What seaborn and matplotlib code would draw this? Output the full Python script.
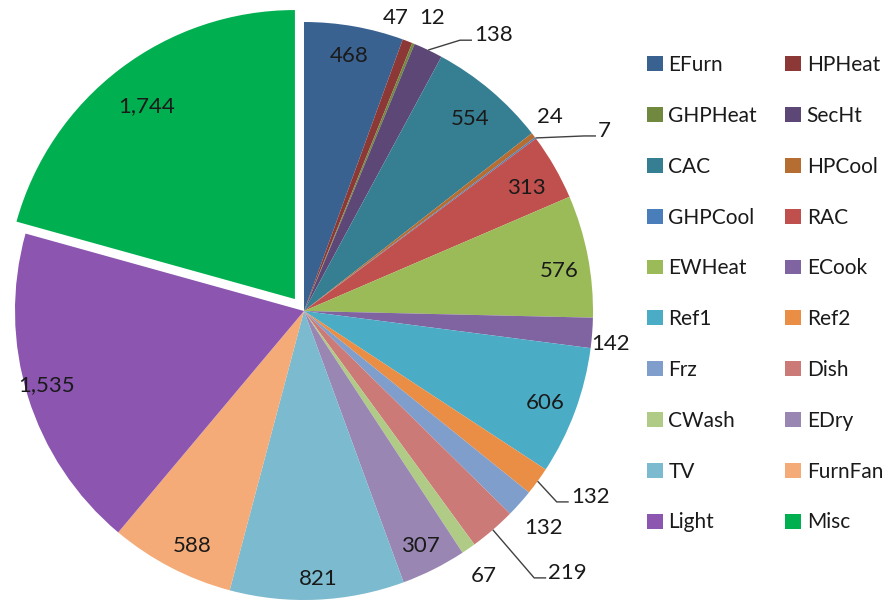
import numpy as np
import matplotlib
matplotlib.use("Agg")
import matplotlib.pyplot as plt
from matplotlib.patches import Patch
import seaborn as sns

categories = ["EFurn", "HPHeat", "GHPHeat", "SecHt", "CAC", "HPCool", "GHPCool", "RAC",
              "EWHeat", "ECook", "Ref1", "Ref2", "Frz", "Dish", "CWash", "EDry", "TV",
              "FurnFan", "Light", "Misc"]
values = [468, 47, 12, 138, 554, 24, 7, 313, 576, 142, 606, 132, 132, 219, 67, 307, 821,
          588, 1535, 1744]
colors_hex = ["#3A6291", "#8C3836", "#71893F", "#5C4776", "#367F93", "#B66D31", "#4A7EBB",
              "#C0504D", "#9BBB59", "#8064A2", "#4BACC6", "#EB8E45", "#7F9ECB", "#CC7A78",
              "#B0CB85", "#9A86B3", "#7BBACF", "#F5AB78", "#8B55B0", "#00B050"]

# label placement styles (radius fraction, angular nudge in degrees, leader line)
lab_r = [0.896, 1.062, 1.107, 1.121, 0.879, 1.083, 1.193, 0.879, 0.893, 1.066,
         0.893, 1.125, 1.118, 1.239, 1.107, 0.907, 0.927, 0.90, 0.927, 0.84]
lab_da = [0, -3.6, 1.4, 6.2, 0.6, -0.9, 5.3, 1, 2, 1.8,
          0.6, -1.2, 0.5, -2.2, 0.5, 0.4, -0.4, -2, 1.2, -0.3]
leader_idx = {3, 6, 11, 13}

sns.set_style("white")
plt.rcParams["font.family"] = ["Lato", "DejaVu Sans"]
palette = sns.color_palette(colors_hex)

W, H = 885, 602
fig = plt.figure(figsize=(W / 100, H / 100), dpi=100)
ax = fig.add_axes([0, 0, 1, 1])
cx, cy, R = 304, 291, 289
# matplotlib's explode offset is in data units (here pixels)
explode = [0] * (len(values) - 1) + [15]
wedges, _ = ax.pie(values, colors=palette, startangle=90, counterclock=False, radius=R,
                   center=(cx, cy), explode=explode, wedgeprops=dict(linewidth=0))
ax.set_xlim(0, W)
ax.set_ylim(0, H)
ax.set_aspect("equal")
ax.axis("off")

txt_color = "#1a1a1a"
for i, (w, v) in enumerate(zip(wedges, values)):
    mid = 0.5 * (w.theta1 + w.theta2)
    wx, wy = w.center
    ang = np.deg2rad(mid - lab_da[i])
    tx = wx + lab_r[i] * R * np.cos(ang)
    ty = wy + lab_r[i] * R * np.sin(ang)
    label = f"{v:,}"
    if i in leader_idx:
        sx = wx + R * np.cos(np.deg2rad(mid))
        sy = wy + R * np.sin(np.deg2rad(mid))
        ax.plot([sx, tx - 14, tx - 2], [sy, ty - 5, ty - 5], color="#404040", lw=1.0,
                solid_capstyle="butt")
        ax.text(tx, ty, label, ha="left", va="center", fontsize=16, color=txt_color)
    else:
        ax.text(tx, ty, label, ha="center", va="center", fontsize=16, color=txt_color)

handles = [Patch(facecolor=c, edgecolor="none") for c in palette]
order = list(range(0, len(categories), 2)) + list(range(1, len(categories), 2))
fig.legend([handles[i] for i in order], [categories[i] for i in order],
           loc="upper left", bbox_to_anchor=(647 / W, 1 - 55 / H), ncol=2, frameon=False,
           fontsize=15, handlelength=0.75, handleheight=0.72, handletextpad=0.28,
           columnspacing=1.35, labelspacing=1.48, borderpad=0, borderaxespad=0,
           labelcolor=txt_color)

fig.savefig("out.png", dpi=100)
